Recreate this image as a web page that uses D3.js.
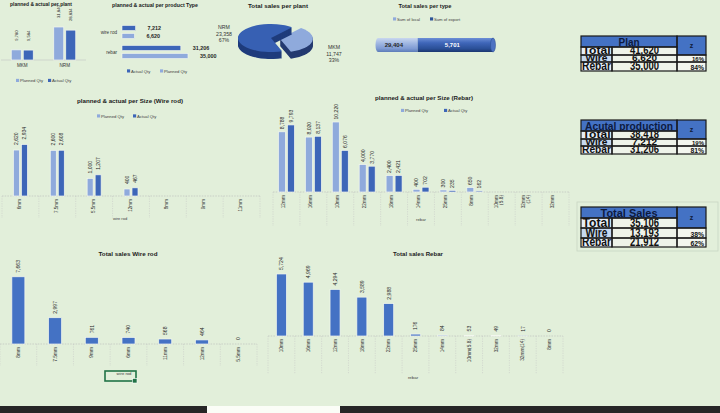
<!DOCTYPE html>
<html><head><meta charset="utf-8">
<script src="https://cdn.jsdelivr.net/npm/d3@7"></script>
<style>
html,body{margin:0;padding:0;background:#e2efda;overflow:hidden}
svg{display:block;font-family:"Liberation Sans",Arial,sans-serif}
</style></head><body>
<svg id="c" width="720" height="413"></svg>
<script>
// ---------- DATA ----------
const plants = ["MKM", "NRM"];
const plantPlanned = [9780, 31840];
const plantActual = [9584, 28834];

const productTypes = ["wire rod", "rebar"];
const typeActual = [7212, 31206];
const typePlanned = [6620, 35000];

const piePlants = ["MKM", "NRM"];
const pieSales = [11747, 23358];

const salesTypes = ["Sum of local", "Sum of export"];
const salesTypeValues = [29404, 5701];
const salesTypeAxisMin = 26400;

const wireSizes = ["6mm", "7.5mm", "5.5mm", "12mm", "8mm", "9mm", "11mm"];
const wirePlanned = [2620, 2600, 1000, 400, null, null, null];
const wireActual = [2934, 2608, 1207, 467, null, null, null];

const rebarSizes = ["12mm", "16mm", "10mm", "22mm", "18mm", "14mm", "25mm", "8mm", "10mm (5.8)", "32mm (14)", "32mm"];
const rebarPlanned = [8788, 8020, 10220, 4000, 2400, 400, 300, 650, null, null, null];
const rebarActual = [9793, 8137, 6076, 3770, 2421, 702, 235, 162, null, null, null];

const wireSalesSizes = ["8mm", "7.5mm", "9mm", "6mm", "11mm", "12mm", "5.5mm"];
const wireSales = [7663, 2997, 761, 740, 568, 464, 0];

const rebarSalesSizes = ["10mm", "16mm", "12mm", "18mm", "22mm", "25mm", "14mm", "10mm(5.8)", "32mm", "32mm(14)", "8mm"];
const rebarSales = [5724, 4969, 4294, 3589, 2988, 176, 84, 53, 49, 17, 0];

const tableRowLabels = ["Total", "Wire", "Rebar"];
const planValues = [41620, 6620, 35000];
const productionValues = [38418, 7212, 31206];
const salesValues = [35106, 13193, 21912];

// ---------- HELPERS ----------
const svg = d3.select("#c");
const fmt = d3.format(",");
const pct = d3.format(".0%");
const C_PLAN = "#8faadc", C_ACT = "#3d66b8", C_SALE = "#4472c4", TXT = "#262626";

function vtext(g, x, y, t, fs, anchor, fill) {
  return g.append("text").attr("transform", `translate(${x},${y}) rotate(-90)`)
    .attr("text-anchor", anchor).attr("font-size", fs).attr("fill", fill || TXT).text(t);
}
function title(x, y, t, fs, len) {
  const e = svg.append("text").attr("x", x).attr("y", y).attr("text-anchor", "middle")
    .attr("font-size", fs).attr("font-weight", "bold").attr("fill", "#1a1a1a").text(t);
  if (len) e.attr("textLength", len).attr("lengthAdjust", "spacingAndGlyphs");
}
function legend(items, y, fs) {
  items.forEach(([t, col, x]) => {
    svg.append("rect").attr("x", x).attr("y", y - fs * 0.75).attr("width", fs * 0.75).attr("height", fs * 0.75).attr("fill", col);
    svg.append("text").attr("x", x + fs * 0.95).attr("y", y).attr("font-size", fs).attr("fill", "#404040").text(t);
  });
}
function grid(g, x, n, base, len, x0, x1) {
  g.append("line").attr("x1", x0).attr("x2", x1).attr("y1", base).attr("y2", base)
    .attr("stroke", "#b8b8b8").attr("stroke-width", 0.6).attr("stroke-dasharray", "1.5,1.2");
  for (let i = 0; i <= n; i++) {
    const xx = x0 + i * x.step();
    g.append("line").attr("x1", xx).attr("x2", xx).attr("y1", base).attr("y2", base + len)
      .attr("stroke", "#c4c4c4").attr("stroke-width", 0.5).attr("stroke-dasharray", "1.2,1.2");
  }
}
function catLabel(g, cx, base, label, fs) {
  const parts = label.split(" ");
  parts.forEach((p, k) => {
    const off = (k - (parts.length - 1) / 2) * fs * 1.1;
    vtext(g, cx + fs * 0.35 + off, base + 3, p, fs, "end", "#333");
  });
}
function grouped(cfg) {
  const g = svg.append("g");
  const n = cfg.cats.length;
  const x = d3.scaleBand().domain(d3.range(n)).range([cfg.x0, cfg.x1]);
  const y = d3.scaleLinear().domain([0, cfg.max]).range([cfg.base, cfg.base - 100]);
  grid(g, x, n, cfg.base, cfg.gridLen, cfg.x0, cfg.x1);
  cfg.cats.forEach((c, i) => {
    const cx = x(i) + x.bandwidth() / 2;
    [[cfg.planned[i], C_PLAN, cx - cfg.bw - cfg.gap / 2], [cfg.actual[i], C_ACT, cx + cfg.gap / 2]].forEach(([v, col, bx]) => {
      if (v == null) return;
      g.append("rect").attr("x", bx).attr("y", y(v)).attr("width", cfg.bw).attr("height", y(0) - y(v))
        .attr("fill", col).attr("stroke", "#f3f7ef").attr("stroke-width", 0.7);
      vtext(g, bx + cfg.bw / 2 + cfg.vfs * 0.36, y(v) - cfg.labGap, fmt(v), cfg.vfs, "start");
    });
    catLabel(g, cx - cfg.labShift, cfg.base, c, cfg.cfs);
  });
}
function single(cfg) {
  const g = svg.append("g");
  const n = cfg.cats.length;
  const x = d3.scaleBand().domain(d3.range(n)).range([cfg.x0, cfg.x1]);
  const y = d3.scaleLinear().domain([0, cfg.max]).range([cfg.base, cfg.base - 100]);
  grid(g, x, n, cfg.base, cfg.gridLen, cfg.x0, cfg.x1);
  cfg.cats.forEach((c, i) => {
    const cx = x(i) + x.bandwidth() / 2;
    const v = cfg.values[i];
    if (v > 0) g.append("rect").attr("x", cx - cfg.bw / 2).attr("y", y(v)).attr("width", cfg.bw).attr("height", y(0) - y(v))
      .attr("fill", C_SALE).attr("stroke", "#f3f7ef").attr("stroke-width", 0.7);
    vtext(g, cx + cfg.vfs * 0.36, y(v) - cfg.labGap, fmt(v), cfg.vfs, "start");
    catLabel(g, cx, cfg.base, c, cfg.cfs);
  });
}

// ---------- CHART 1: planned & actual per plant ----------
title(41, 5.5, "planned & actual per plant", 4.8, 62);
{
  const g = svg.append("g");
  const x = d3.scaleBand().domain(plants).range([1, 86]);
  const y = d3.scaleLinear().domain([0, 38600]).range([60, 20]);
  g.append("line").attr("x1", 1).attr("x2", 86).attr("y1", 60).attr("y2", 60).attr("stroke", "#c4c4c4").attr("stroke-width", 0.6);
  plants.forEach((p, i) => {
    const cx = x(p) + x.bandwidth() / 2;
    [[plantPlanned[i], C_PLAN, cx - 11], [plantActual[i], C_ACT, cx + 1]].forEach(([v, col, bx]) => {
      g.append("rect").attr("x", bx).attr("y", y(v)).attr("width", 10).attr("height", y(0) - y(v))
        .attr("fill", col).attr("stroke", "#f3f7ef").attr("stroke-width", 0.7);
      vtext(g, bx + 5 + 1.5, y(v) - 9, fmt(v), 4.2, "start");
    });
    g.append("text").attr("x", cx).attr("y", 67).attr("text-anchor", "middle").attr("font-size", 4.6).attr("fill", "#333").text(p);
  });
  legend([["Planned Qty", C_PLAN, 16], ["Actual Qty", C_ACT, 48]], 82, 4.2);
}

// ---------- CHART 2: per product type ----------
title(155, 7, "planned & actual per product Type", 5, 86);
{
  const g = svg.append("g");
  const x = d3.scaleLinear().domain([0, 40000]).range([122, 197.4]);
  const yb = d3.scaleBand().domain(productTypes).range([22, 62]);
  productTypes.forEach((t, i) => {
    const cy = yb(t) + yb.bandwidth() / 2;
    [[typeActual[i], C_ACT, cy - 6.5], [typePlanned[i], C_PLAN, cy + 1.5]].forEach(([v, col, by]) => {
      g.append("rect").attr("x", x(0)).attr("y", by).attr("width", x(v) - x(0)).attr("height", 5)
        .attr("fill", col).attr("stroke", "#f3f7ef").attr("stroke-width", 0.6);
      g.append("text").attr("x", x(v) + 12).attr("y", by + 4.3).attr("font-size", 5.4).attr("font-weight", "bold").attr("fill", TXT).text(fmt(v));
    });
    g.append("text").attr("x", 117).attr("y", cy + 1.5).attr("text-anchor", "end").attr("font-size", 4.6).attr("fill", "#333").text(t);
  });
  legend([["Actual Qty", C_ACT, 127], ["Planned Qty", C_PLAN, 160]], 72.5, 4.2);
}

// ---------- CHART 3: Total sales per plant (3D pie) ----------
title(278, 8, "Total sales per plant", 5.4, 60);
{
  const g = svg.append("g");
  const cx = 271, cy = 38, rx = 33, ry = 14, depth = 7;
  const arcs = d3.pie().sort(null).startAngle(40 * Math.PI / 180).endAngle(400 * Math.PI / 180)(pieSales);
  const arc = d3.arc().innerRadius(0).outerRadius(rx);
  const tops = ["#8faadc", "#3760b3"], sides = ["#243a70", "#1f3c7c"];
  arcs.forEach((d, i) => {
    const mid = (d.startAngle + d.endAngle) / 2;
    const ex = i === 0 ? 9 : 0;
    const dx = Math.sin(mid) * ex, dy = -Math.cos(mid) * ex * (ry / rx);
    for (let k = depth; k >= 1; k--) {
      g.append("path").attr("d", arc(d)).attr("fill", sides[i])
        .attr("transform", `translate(${cx + dx},${cy + dy + k}) scale(1,${ry / rx})`);
    }
    g.append("path").attr("d", arc(d)).attr("fill", tops[i])
      .attr("transform", `translate(${cx + dx},${cy + dy}) scale(1,${ry / rx})`);
  });
  const total = d3.sum(pieSales);
  const labPos = [[334, 49], [224, 29]];
  piePlants.forEach((p, i) => {
    [p, fmt(pieSales[i]), pct(pieSales[i] / total)].forEach((t, k) => {
      g.append("text").attr("x", labPos[i][0]).attr("y", labPos[i][1] + k * 6.6).attr("text-anchor", "middle")
        .attr("font-size", 5.2).attr("fill", "#333").text(t);
    });
  });
}

// ---------- CHART 4: Total sales per type (cylinder) ----------
title(425, 8, "Total sales per type", 5.2, 53);
legend([[salesTypes[0], C_PLAN, 393], [salesTypes[1], "#2f5597", 430]], 20.5, 4.2);
{
  const defs = svg.append("defs");
  const mk = (id, stops) => {
    const lg = defs.append("linearGradient").attr("id", id).attr("x1", 0).attr("y1", 0).attr("x2", 0).attr("y2", 1);
    stops.forEach(([o, c]) => lg.append("stop").attr("offset", o).attr("stop-color", c));
  };
  mk("gLocal", [[0, "#c9d7ef"], [0.35, "#a3b9e3"], [0.75, "#7f9bd3"], [1, "#5d7cb8"]]);
  mk("gExport", [[0, "#6d8fd6"], [0.35, "#3f66b9"], [0.75, "#2b5098"], [1, "#1c3770"]]);
  const g = svg.append("g");
  const x = d3.scaleLinear().domain([salesTypeAxisMin, d3.sum(salesTypeValues)]).range([378, 493]);
  const y0 = 38, h = 14;
  const fills = ["url(#gLocal)", "url(#gExport)"];
  salesTypeValues.forEach((v, i) => {
    const a = i === 0 ? salesTypeAxisMin : salesTypeValues[0];
    const b = i === 0 ? salesTypeValues[0] : salesTypeValues[0] + v;
    g.append("rect").attr("x", x(a)).attr("y", y0).attr("width", x(b) - x(a)).attr("height", h).attr("fill", fills[i]);
  });
  g.append("ellipse").attr("cx", x(salesTypeAxisMin)).attr("cy", y0 + h / 2).attr("rx", 2.5).attr("ry", h / 2).attr("fill", "url(#gLocal)");
  g.append("ellipse").attr("cx", x(d3.sum(salesTypeValues))).attr("cy", y0 + h / 2).attr("rx", 2.5).attr("ry", h / 2).attr("fill", "#4d72c2").attr("stroke", "#2a4c90").attr("stroke-width", 0.5);
  g.append("text").attr("x", (x(salesTypeAxisMin) + x(salesTypeValues[0])) / 2 - 4).attr("y", y0 + h / 2 + 2).attr("text-anchor", "middle")
    .attr("font-size", 6).attr("font-weight", "bold").attr("fill", TXT).text(fmt(salesTypeValues[0]));
  g.append("text").attr("x", (x(salesTypeValues[0]) + x(d3.sum(salesTypeValues))) / 2 - 3).attr("y", y0 + h / 2 + 2).attr("text-anchor", "middle")
    .attr("font-size", 6).attr("font-weight", "bold").attr("fill", "#fff").text(fmt(salesTypeValues[1]));
}

// ---------- CHART 5: planned & actual per Size (Wire rod) ----------
title(130, 103, "planned & actual per Size (Wire rod)", 5.5, 106);
legend([["Planned Qty", C_PLAN, 97], ["Actual Qty", C_ACT, 133]], 117.5, 4.2);
grouped({ cats: wireSizes, planned: wirePlanned, actual: wireActual, x0: 2, x1: 260, base: 196, max: 5700,
  bw: 6, gap: 2, vfs: 5, labGap: 5, gridLen: 22, cfs: 4.6, labShift: 1 });
svg.append("text").attr("x", 120).attr("y", 220).attr("text-anchor", "middle").attr("font-size", 4).attr("fill", "#404040").text("wire rod");

// ---------- CHART 6: planned & actual per Size (Rebar) ----------
title(424, 100, "planned & actual per Size (Rebar)", 5.5, 98);
legend([["Planned Qty", C_PLAN, 401], ["Actual Qty", C_ACT, 444]], 112, 4.2);
grouped({ cats: rebarSizes, planned: rebarPlanned, actual: rebarActual, x0: 273, x1: 569, base: 192, max: 14600,
  bw: 7, gap: 2, vfs: 5.1, labGap: 2.5, gridLen: 34, cfs: 4.8, labShift: 3 });
svg.append("text").attr("x", 421).attr("y", 221).attr("text-anchor", "middle").attr("font-size", 4.2).attr("fill", "#404040").text("rebar");

// ---------- CHART 7: Total sales Wire rod ----------
title(128, 256, "Total sales Wire rod", 5.4, 59);
single({ cats: wireSalesSizes, values: wireSales, x0: 0, x1: 257, base: 344, max: 11400,
  bw: 13, vfs: 5.1, labGap: 4, gridLen: 22, cfs: 4.8 });
svg.append("rect").attr("x", 105).attr("y", 371).attr("width", 31).attr("height", 10).attr("fill", "none").attr("stroke", "#217346").attr("stroke-width", 1.6);
svg.append("rect").attr("x", 132.5).attr("y", 378.5).attr("width", 4.5).attr("height", 4.5).attr("fill", "#217346").attr("stroke", "#fff").attr("stroke-width", 0.6);
svg.append("text").attr("x", 124).attr("y", 375).attr("text-anchor", "middle").attr("font-size", 4.2).attr("fill", "#404040").text("wire rod");

// ---------- CHART 8: Total sales Rebar ----------
title(418, 256, "Total sales Rebar", 5.4, 50);
single({ cats: rebarSalesSizes, values: rebarSales, x0: 268, x1: 563, base: 336, max: 9230,
  bw: 10, vfs: 5.1, labGap: 4, gridLen: 38, cfs: 4.8 });
svg.append("text").attr("x", 413).attr("y", 379).attr("text-anchor", "middle").attr("font-size", 4.4).attr("fill", "#404040").text("rebar");

// ---------- TABLES ----------
const borders = [];
function cell(x, y, w, h, fill, txt, o) {
  o = o || {};
  const s = svg.append("svg").attr("x", x).attr("y", y).attr("width", w).attr("height", h).attr("overflow", "hidden");
  s.append("rect").attr("width", w).attr("height", h).attr("fill", fill);
  if (txt != null) {
    const t = s.append("text").attr("font-weight", "bold").attr("font-size", o.fs || 12).attr("fill", o.fill || "#111")
      .attr("text-anchor", o.anchor || "middle")
      .attr("x", o.anchor === "end" ? w - 2 : w / 2)
      .attr("y", o.by != null ? o.by : h - 0.6).text(txt);
    if (o.len) t.attr("textLength", o.len).attr("lengthAdjust", "spacingAndGlyphs");
  }
  borders.push([x, y, w, h]);
}
function table(head, headLen, ys, values) {
  const xs = [581, 612, 677, 706];
  cell(xs[0], ys[0], xs[2] - xs[0], ys[1] - ys[0], "#4472c4", head, { fs: 10, fill: "#0d1a40", by: ys[1] - ys[0] - 1.4, len: headLen });
  cell(xs[2], ys[0], xs[3] - xs[2], ys[2] - ys[0], "#4472c4", "z", { fs: 7, fill: "#101a3a", by: (ys[2] - ys[0]) / 2 + 2.5 });
  const labBg = ["#e6eef8", "#c6d9f0", "#e6eef8"];
  tableRowLabels.forEach((lab, i) => {
    const y = ys[i + 1], h = ys[i + 2] - ys[i + 1];
    const fs = Math.min(12, (h - 0.4) / 0.72);
    cell(xs[0], y, xs[1] - xs[0], h, labBg[i], lab, { fs: fs, len: i === 2 ? 29 : (i === 0 ? 28 : 22) });
    cell(xs[1], y, xs[2] - xs[1], h, "#eef3e9", fmt(values[i]), { fs: fs, len: 29 + (values[i] >= 10000 ? 0 : -4) });
    if (i > 0) cell(xs[2], y, xs[3] - xs[2], h, "#f3f6ef", pct(values[i] / values[0]), { fs: Math.min(6.8, h - 1), anchor: "end", by: h - 1.3 });
  });
}
svg.append("rect").attr("x", 577).attr("y", 202).attr("width", 141).attr("height", 49).attr("fill", "none").attr("stroke", "#c9d6c2").attr("stroke-width", 0.8);
table("Plan", 21, [36, 47, 55, 62, 71], planValues);
table("Acutal production", 88, [120, 131, 139, 146, 154], productionValues);
table("Total Sales", 57, [207, 218, 228, 238, 247], salesValues);
const bg = svg.append("g");
borders.forEach(([x, y, w, h]) => bg.append("rect").attr("x", x).attr("y", y).attr("width", w).attr("height", h)
  .attr("fill", "none").attr("stroke", "#1a1a1a").attr("stroke-width", 1.2));

// ---------- bottom window strip ----------
svg.append("rect").attr("x", 0).attr("y", 406).attr("width", 207).attr("height", 7).attr("fill", "#262626");
svg.append("rect").attr("x", 207).attr("y", 406).attr("width", 133).attr("height", 7).attr("fill", "#fbfdf7");
svg.append("rect").attr("x", 340).attr("y", 406).attr("width", 380).attr("height", 7).attr("fill", "#262626");
</script>
</body></html>
